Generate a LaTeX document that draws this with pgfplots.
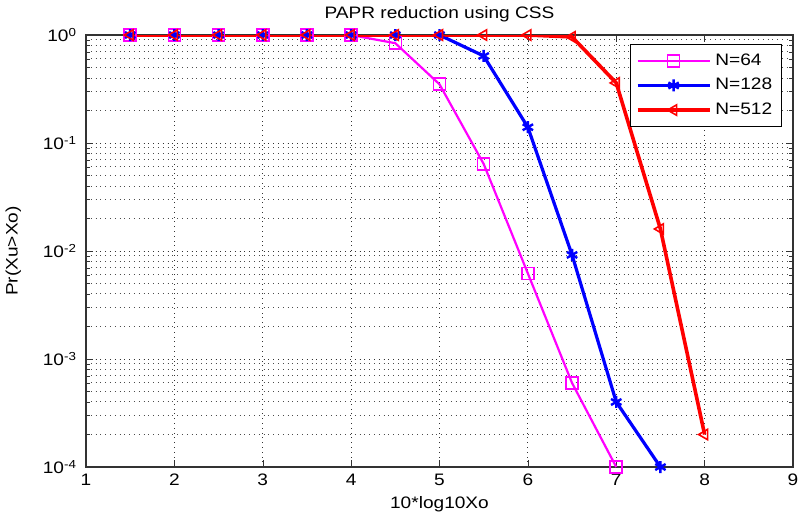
\documentclass[border=0pt]{standalone}
\usepackage{fontspec}
\setmainfont[FakeStretch=1.15]{Liberation Sans}
\usepackage{pgfplots}
\pgfplotsset{compat=1.18}
\definecolor{mmag}{rgb}{1,0,1}

\begin{document}
\begin{tikzpicture}
\useasboundingbox (-43pt,-24.5pt) rectangle (358.5pt,233.5pt);
\begin{axis}[
  scale only axis,
  width=353.5pt, height=216pt,
  ymode=log,
  xmin=1, xmax=9, ymin=1e-4, ymax=1,
  xtick={1,2,...,9},
  ytick={1e-4,1e-3,1e-2,1e-1,1},
  yticklabels={10\textsuperscript{-4},10\textsuperscript{-3},10\textsuperscript{-2},10\textsuperscript{-1},10\textsuperscript{0}},
  /pgf/number format/assume math mode=true,
  font=\fontsize{8.3}{10}\selectfont,
  title={PAPR reduction using CSS},
  title style={yshift=-3pt},
  xlabel={10*log10Xo},
  ylabel={Pr(Xu>Xo)},
  xlabel style={yshift=1.5pt},
  ylabel style={yshift=4pt},
  yticklabel style={xshift=-1pt},
  xmajorgrids, ymajorgrids, yminorgrids,
  major grid style={dotted, black!80, line width=0.5pt},
  minor grid style={dotted, black!70, line width=0.5pt},
  axis line style={black!80, line width=0.6pt},
  major tick length=3.5pt, minor tick length=2pt,
  tick style={black!80},
  legend style={at={(0.984,0.979)}, anchor=north east, draw=black, line width=0.5pt,
    font=\fontsize{8.3}{10}\selectfont, row sep=1pt, inner sep=2.5pt},
  legend cell align=left,
  legend image code/.code={\draw[mark repeat=2, mark phase=2] plot coordinates {(0pt,0pt) (18pt,0pt) (36pt,0pt)};},
]
\addplot[color=mmag, line width=1.1pt, mark=square, mark size=3pt, mark options={solid, line width=0.8pt}]
coordinates {
  (1.5,1)(2,1)(2.5,1)(3,1)(3.5,1)(4,1)(4.5,0.84)(5,0.35)(5.5,0.064)(6,0.0062)(6.5,0.0006)(7,0.0001)
};
\addlegendentry{N=64}
\addplot[color=blue, line width=1.6pt, mark=asterisk, mark size=3pt, mark options={solid, line width=1.2pt}]
coordinates {
  (1.5,1)(2,1)(2.5,1)(3,1)(3.5,1)(4,1)(4.5,1)(5,1)(5.5,0.64)(6,0.14)(6.5,0.0092)(7,0.0004)(7.5,0.0001)
};
\addlegendentry{N=128}
\addplot[color=red, line width=1.8pt, mark=triangle, mark size=3pt, mark options={solid, rotate=90, line width=0.8pt}]
coordinates {
  (1.5,1)(2,1)(2.5,1)(3,1)(3.5,1)(4,1)(4.5,1)(5,1)(5.5,1)(6,1)(6.5,0.96)(7,0.36)(7.5,0.016)(8,0.0002)
};
\addlegendentry{N=512}
\end{axis}
\end{tikzpicture}
\end{document}
